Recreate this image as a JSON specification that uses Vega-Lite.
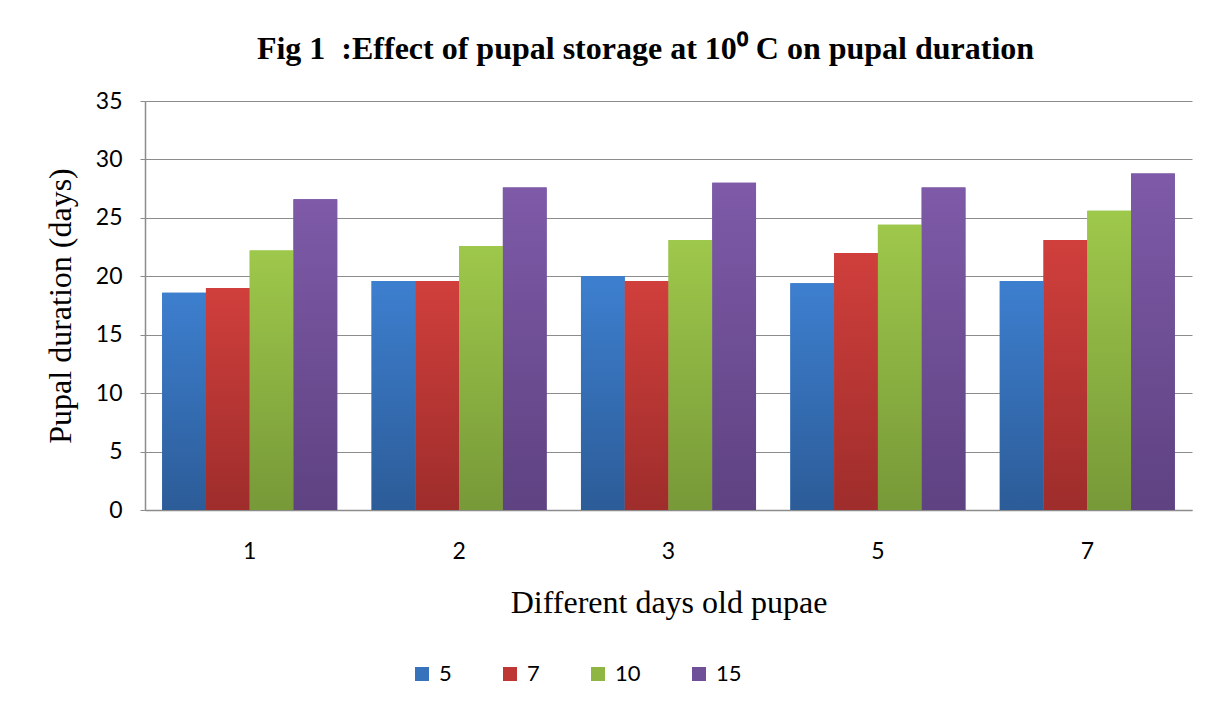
{
  "$schema": "https://vega.github.io/schema/vega-lite/v6.json",
  "width": 1047,
  "height": 409,
  "autosize": {"type": "none"},
  "padding": {"left": 145, "top": 101, "right": 25, "bottom": 209},
  "background": "white",
  "config": {"view": {"stroke": null}},
  "title": {
    "text": "Fig 1\u00a0\u00a0:Effect of pupal storage at 10⁰ C on pupal duration",
    "font": "Liberation Serif",
    "fontSize": 32,
    "fontWeight": "bold",
    "color": "#000000",
    "anchor": "middle",
    "dx": -23,
    "offset": 24
  },
  "data": {
    "values": [
      {"age": "1", "storage": "5", "duration": 18.6},
      {"age": "1", "storage": "7", "duration": 19.0},
      {"age": "1", "storage": "10", "duration": 22.2},
      {"age": "1", "storage": "15", "duration": 26.6},
      {"age": "2", "storage": "5", "duration": 19.6},
      {"age": "2", "storage": "7", "duration": 19.6},
      {"age": "2", "storage": "10", "duration": 22.6},
      {"age": "2", "storage": "15", "duration": 27.6},
      {"age": "3", "storage": "5", "duration": 20.0},
      {"age": "3", "storage": "7", "duration": 19.6},
      {"age": "3", "storage": "10", "duration": 23.1},
      {"age": "3", "storage": "15", "duration": 28.0},
      {"age": "5", "storage": "5", "duration": 19.4},
      {"age": "5", "storage": "7", "duration": 22.0},
      {"age": "5", "storage": "10", "duration": 24.4},
      {"age": "5", "storage": "15", "duration": 27.6},
      {"age": "7", "storage": "5", "duration": 19.6},
      {"age": "7", "storage": "7", "duration": 23.1},
      {"age": "7", "storage": "10", "duration": 25.6},
      {"age": "7", "storage": "15", "duration": 28.8}
    ]
  },
  "encoding": {
    "x": {
      "field": "age",
      "type": "nominal",
      "sort": ["1", "2", "3", "5", "7"],
      "scale": {"paddingInner": 0.164, "paddingOuter": 0.082},
      "title": "Different days old pupae",
      "axis": {
        "labelAngle": 0,
        "labelFont": "Lato",
        "labelFontSize": 23,
        "labelColor": "#000000",
        "labelPadding": 30,
        "ticks": false,
        "domainColor": "#8c8c8c",
        "domainWidth": 1.5,
        "titleFont": "Liberation Serif",
        "titleFontSize": 32,
        "titleFontWeight": "normal",
        "titleColor": "#000000",
        "titlePadding": 24
      }
    },
    "xOffset": {
      "field": "storage",
      "type": "nominal",
      "sort": ["5", "7", "10", "15"],
      "scale": {"domain": ["5", "7", "10", "15"], "paddingInner": 0, "paddingOuter": 0}
    },
    "y": {
      "field": "duration",
      "type": "quantitative",
      "scale": {"domain": [0, 35], "nice": false},
      "title": "Pupal duration (days)",
      "axis": {
        "values": [0, 5, 10, 15, 20, 25, 30, 35],
        "grid": true,
        "gridColor": "#8c8c8c",
        "gridWidth": 1,
        "domainColor": "#8c8c8c",
        "domainWidth": 1.5,
        "tickColor": "#8c8c8c",
        "tickSize": 5,
        "labelFont": "Lato",
        "labelFontSize": 23,
        "labelColor": "#000000",
        "labelPadding": 18,
        "titleFont": "Liberation Serif",
        "titleFontSize": 32,
        "titleFontWeight": "normal",
        "titleColor": "#000000",
        "titlePadding": 18
      }
    }
  },
  "layer": [
    {
      "mark": {"type": "bar"},
      "encoding": {
        "color": {
          "field": "storage",
          "type": "nominal",
          "scale": {
            "domain": ["5", "7", "10", "15"],
            "range": ["#3772bd", "#bf3735", "#8fb643", "#6f4f98"]
          },
          "legend": {
            "orient": "none",
            "legendX": 266,
            "legendY": 562,
            "direction": "horizontal",
            "title": null,
            "symbolType": "square",
            "symbolSize": 196,
            "symbolStrokeWidth": 0,
            "labelFont": "Lato",
            "labelFontSize": 22,
            "labelColor": "#000000",
            "labelOffset": 6,
            "columnPadding": 47
          }
        }
      }
    },
    {
      "transform": [{"filter": "datum.storage === '5'"}],
      "mark": {"type": "bar", "fill": {"gradient": "linear", "x1": 0, "y1": 0, "x2": 0, "y2": 1, "stops": [{"offset": 0, "color": "#3d7fcf"}, {"offset": 1, "color": "#2c5c98"}]}}
    },
    {
      "transform": [{"filter": "datum.storage === '7'"}],
      "mark": {"type": "bar", "fill": {"gradient": "linear", "x1": 0, "y1": 0, "x2": 0, "y2": 1, "stops": [{"offset": 0, "color": "#d03f3c"}, {"offset": 1, "color": "#9e2d2b"}]}}
    },
    {
      "transform": [{"filter": "datum.storage === '10'"}],
      "mark": {"type": "bar", "fill": {"gradient": "linear", "x1": 0, "y1": 0, "x2": 0, "y2": 1, "stops": [{"offset": 0, "color": "#9ec84b"}, {"offset": 1, "color": "#779938"}]}}
    },
    {
      "transform": [{"filter": "datum.storage === '15'"}],
      "mark": {"type": "bar", "fill": {"gradient": "linear", "x1": 0, "y1": 0, "x2": 0, "y2": 1, "stops": [{"offset": 0, "color": "#7e5aa8"}, {"offset": 1, "color": "#5e4281"}]}}
    }
  ]
}
